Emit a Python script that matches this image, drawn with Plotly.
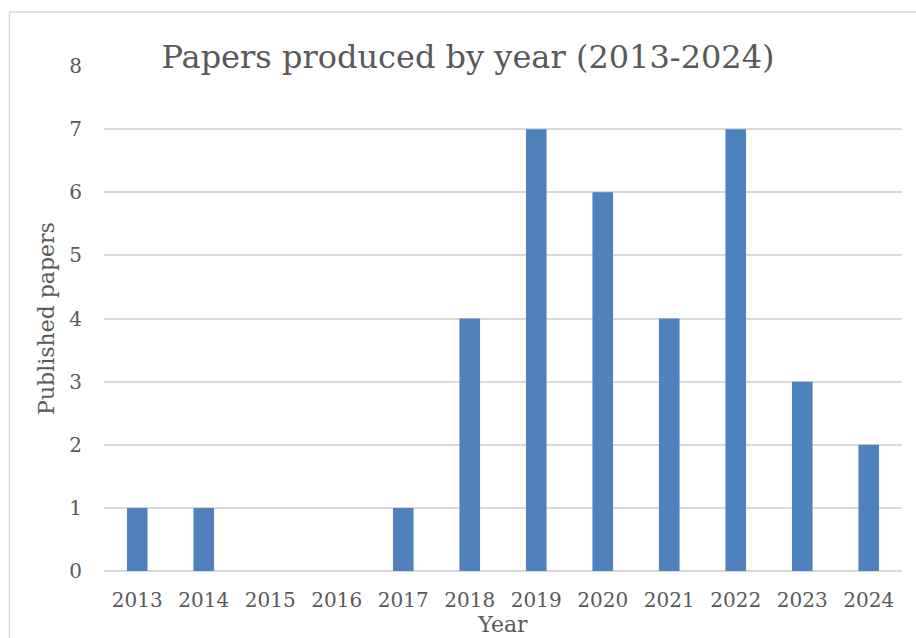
import plotly.graph_objects as go

years = ["2013", "2014", "2015", "2016", "2017", "2018", "2019", "2020", "2021", "2022", "2023", "2024"]
papers = [1, 1, 0, 0, 1, 4, 7, 6, 4, 7, 3, 2]
y_ticks = [0, 1, 2, 3, 4, 5, 6, 7, 8]

FONT = "DejaVu Serif"
GREY = "#595959"

fig = go.Figure(go.Bar(
    x=years, y=papers,
    marker=dict(color="#4f81bd", line=dict(width=0)),
    hoverinfo="x+y",
))

fig.update_layout(
    width=916, height=638,
    margin=dict(l=104, r=14, t=66, b=67),
    paper_bgcolor="white", plot_bgcolor="white",
    bargap=0.69,
    showlegend=False,
    font=dict(family=FONT, color=GREY),
    title=dict(text="Papers produced by year (2013-2024)", x=468/916, xanchor="center",
               y=1 - 57/638, yanchor="middle",
               font=dict(family=FONT, size=32, color=GREY)),
    xaxis=dict(
        title=dict(text="Year", font=dict(family=FONT, size=22, color=GREY), standoff=0),
        tickfont=dict(family=FONT, size=20, color=GREY),
        showgrid=False, showline=False, ticks="", ticklabelstandoff=15,
        automargin=False,
    ),
    yaxis=dict(
        title=dict(text="Published papers", font=dict(family=FONT, size=22, color=GREY), standoff=8),
        tickfont=dict(family=FONT, size=20, color=GREY),
        range=[0, 8], tickvals=y_ticks, showgrid=True, gridcolor="#d9d9d9", gridwidth=1.5,
        zeroline=True, zerolinecolor="#d9d9d9", zerolinewidth=1.5,
        showline=False, ticks="", ticklabelstandoff=21,
        automargin=False,
    ),
    shapes=[dict(type="rect", xref="paper", yref="paper",
                 x0=(9.5 - 104) / 798, x1=1.1, y0=-0.3, y1=(571 - 12) / 505,
                 line=dict(color="#d9d9d9", width=1.5), fillcolor="rgba(0,0,0,0)", layer="below")],
)

fig.write_html("out.html")
